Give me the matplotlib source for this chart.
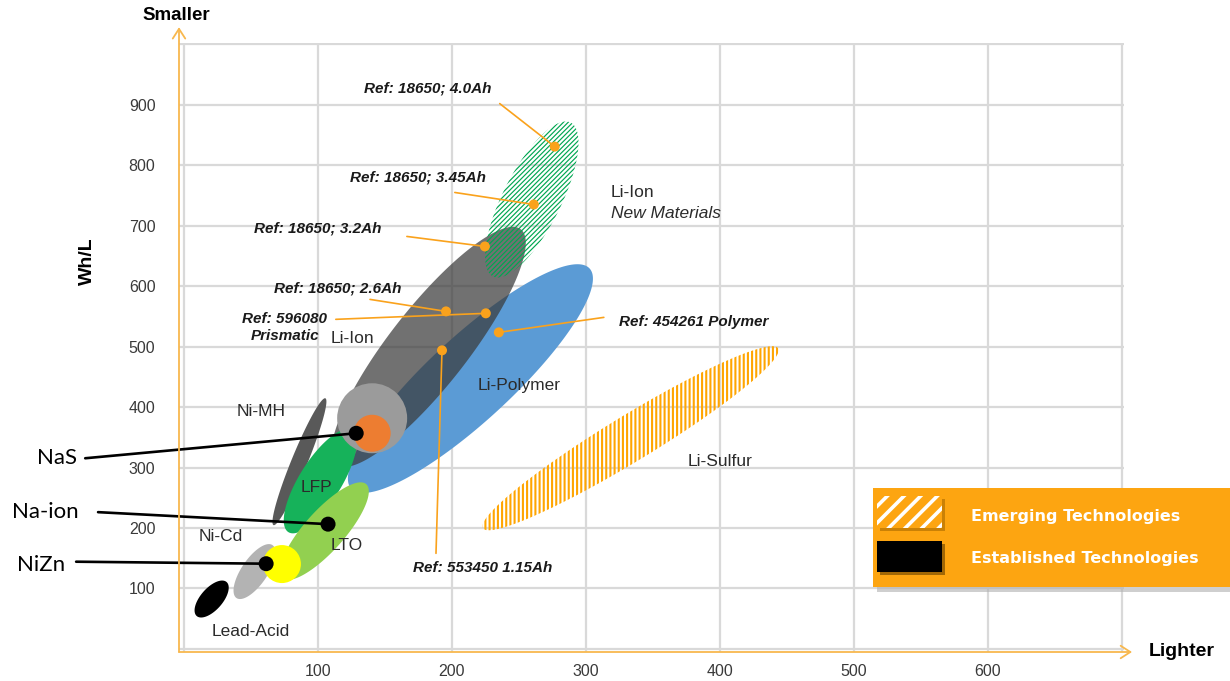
import numpy as np
import matplotlib
matplotlib.use("Agg")
import matplotlib.pyplot as plt
from matplotlib.patches import Polygon, Rectangle

# ---------------- data ----------------
x_ticks = [0, 100, 200, 300, 400, 500, 600, 700]
x_tick_labels = ["", "100", "200", "300", "400", "500", "600", ""]
y_ticks = [0, 100, 200, 300, 400, 500, 600, 700, 800, 900, 1000]
y_tick_labels = ["", "100", "200", "300", "400", "500", "600", "700", "800", "900", ""]

# technology regions: major-axis end points (Wh/kg, Wh/L)
tech_names = ["Li-Polymer", "Li-Ion", "Li-Ion New Materials", "Li-Sulfur",
              "Ni-MH", "LFP", "LTO", "Ni-Cd", "Lead-Acid"]
tech_low_whkg = [125.0, 114.0, 230.7, 223.2, 67.0, 78.1, 73.7, 39.4, 9.7]
tech_low_whl = [265.0, 305.0, 616.0, 199.8, 204.8, 193.2, 117.3, 84.2, 54.5]
tech_high_whkg = [302.8, 251.5, 288.7, 443.5, 105.7, 125.7, 136.2, 66.2, 32.0]
tech_high_whl = [629.2, 694.0, 870.4, 497.1, 414.5, 361.7, 272.5, 171.8, 110.7]

# round technology markers
circle_names = ["Highlight", "NaS", "NiZn"]
circle_whkg = [140.6, 140.6, 73.3]
circle_whl = [381.5, 356.7, 140.4]

# called-out emerging chemistries (black dots)
callout_names = ["NaS", "Na-ion", "NiZn"]
callout_whkg = [128.7, 107.7, 61.5]
callout_whl = [356.7, 206.4, 141.0]

# reference cells
ref_labels = ["Ref: 18650; 4.0Ah", "Ref: 18650; 3.45Ah", "Ref: 18650; 3.2Ah",
              "Ref: 18650; 2.6Ah", "Ref: 596080\nPrismatic", "Ref: 454261 Polymer",
              "Ref: 553450 1.15Ah"]
ref_whkg = [276.8, 261.2, 224.7, 195.7, 225.4, 235.1, 192.7]
ref_whl = [830.7, 735.0, 665.6, 558.2, 555.0, 523.5, 493.8]

legend_labels = ["Emerging Technologies", "Established Technologies"]

# ---------------- styles / layout ----------------
W, H = 1230, 681
plt.rcParams["font.family"] = ["Liberation Sans", "DejaVu Sans"]
plt.rcParams["hatch.linewidth"] = 1.1

ORANGE_AX = "#f8b84e"
ORANGE = "#faa21c"
TXT = "#2b2b2b"

tech_style = {
    "Li-Polymer": dict(fc="#5b9bd5", alpha=1.0, width=84, z=2),
    "Li-Ion": dict(fc="#3a3a3a", alpha=0.72, width=78, z=3),
    "Li-Ion New Materials": dict(fc="none", ec="#00a651", hatch="///////", hlw=0.85, width=58, z=4),
    "Li-Sulfur": dict(fc="none", ec="#ffa500", hatch="||||", hlw=1.5, width=46, z=4),
    "Ni-MH": dict(fc="#595959", alpha=1.0, width=16, z=5),
    "LFP": dict(fc="#16b25a", alpha=1.0, width=42, z=6),
    "LTO": dict(fc="#92d050", alpha=1.0, width=40, z=7),
    "Ni-Cd": dict(fc="#b3b3b3", alpha=1.0, width=26, z=7),
    "Lead-Acid": dict(fc="#000000", alpha=1.0, width=22, z=7),
}
circle_style = {
    "Highlight": dict(c="#9b9b9b", d=70, z=9),
    "NaS": dict(c="#ed7d31", d=37, z=10),
    "NiZn": dict(c="#ffff00", d=38, z=8),
}
tech_text = [  # (text, x, y, style)
    ("Li-Ion", 318.5, 754.7, "normal"),
    ("New Materials", 318.5, 720.0, "italic"),
    ("Li-Ion", 109.4, 513.6, "normal"),
    ("Li-Polymer", 219.5, 436.0, "normal"),
    ("Li-Sulfur", 375.7, 310.5, "normal"),
    ("Ni-MH", 39.4, 393.0, "normal"),
    ("LFP", 87.0, 267.5, "normal"),
    ("LTO", 109.4, 171.8, "normal"),
    ("Ni-Cd", 11.2, 186.6, "normal"),
    ("Lead-Acid", 20.8, 29.7, "normal"),
]
# pixel offsets from the dot: (line start), (label centre)
ref_line_off = [(-55, 43), (-79, 12), (-78, 10), (-76, 12), (-150, -6), (105, 15), (-6, -203)]
ref_text_off = [(-127, 58), (-116, 27), (-167, 18), (-108, 23), (-201, -14), (195, 10), (41, -218)]
callout_line_off = [(-271, -25), (-230, 12), (-190, 2)]
callout_text_off = [(-299, -25), (-283, 12), (-225, -1)]

fig = plt.figure(figsize=(W / 100, H / 100), dpi=100)
fig.patch.set_facecolor("white")
ax_left, ax_right, ax_bottom, ax_top = 179, 1124, 652, 43
ax = fig.add_axes([ax_left / W, (H - ax_bottom) / H, (ax_right - ax_left) / W, (ax_bottom - ax_top) / H])
ax.set_xlim(-3.5, 701.5)
ax.set_ylim(-5, 1002)
for s in ax.spines.values():
    s.set_visible(False)
ax.set_xticks(x_ticks)
ax.set_xticklabels(x_tick_labels)
ax.set_yticks(y_ticks)
ax.set_yticklabels(y_tick_labels)
ax.tick_params(length=0, labelsize=11.5, labelcolor="#3a3a3a")
ax.tick_params(axis="y", pad=17)
ax.tick_params(axis="x", pad=9)
ax.grid(True, color="#d9d9d9", lw=1.6, zorder=0)
ax.set_axisbelow(True)


def ellipse_points(p1, p2, width_px, n=240):
    d1 = ax.transData.transform(p1)
    d2 = ax.transData.transform(p2)
    c = (d1 + d2) / 2
    u = (d2 - d1) / 2
    L = np.hypot(*u)
    v = np.array([-u[1], u[0]]) / L * width_px / 2
    t = np.linspace(0, 2 * np.pi, n)
    pts = c + np.cos(t)[:, None] * u + np.sin(t)[:, None] * v
    return ax.transData.inverted().transform(pts)


for name, x0, y0, x1, y1 in zip(tech_names, tech_low_whkg, tech_low_whl, tech_high_whkg, tech_high_whl):
    st = tech_style[name]
    pts = ellipse_points((x0, y0), (x1, y1), st["width"])
    if "hatch" in st:
        p = Polygon(pts, closed=True, facecolor="none", edgecolor=st["ec"], hatch=st["hatch"],
                    lw=0, zorder=st["z"])
        try:
            p.set_hatch_linewidth(st["hlw"])
        except AttributeError:
            pass
    else:
        p = Polygon(pts, closed=True, facecolor=st["fc"], edgecolor="none", alpha=st["alpha"],
                    zorder=st["z"])
    ax.add_patch(p)

for name, x, y in zip(circle_names, circle_whkg, circle_whl):
    st = circle_style[name]
    ax.scatter([x], [y], s=(st["d"] * 0.72) ** 2, color=st["c"], edgecolors="none", zorder=st["z"])

for txt, x, y, style in tech_text:
    kw = {}
    if txt == "Lead-Acid":
        kw["bbox"] = dict(fc="white", ec="none", pad=1)
    ax.text(x, y, txt, fontsize=12.5, color=TXT, style=style, ha="left", va="center",
            zorder=11 if txt not in ("Lead-Acid",) else 6, **kw)

# reference cells
ax.scatter(ref_whkg, ref_whl, s=(10 * 0.72) ** 2, color=ORANGE, edgecolors="none", zorder=13)
for lab, x, y, lo, to in zip(ref_labels, ref_whkg, ref_whl, ref_line_off, ref_text_off):
    ax.annotate("", xy=(x, y), xytext=lo, textcoords="offset pixels",
                arrowprops=dict(arrowstyle="-", color=ORANGE, lw=1.2, shrinkA=0, shrinkB=0),
                zorder=12)
    ax.annotate(lab, xy=(x, y), xytext=to, textcoords="offset pixels", ha="center", va="center",
                fontsize=11, fontweight="bold", style="italic", color="#1a1a1a",
                linespacing=1.25, zorder=14, annotation_clip=False)

# call-outs
ax.scatter(callout_whkg, callout_whl, s=(15 * 0.72) ** 2, color="black", edgecolors="none", zorder=16)
for lab, x, y, lo, to in zip(callout_names, callout_whkg, callout_whl, callout_line_off, callout_text_off):
    ax.annotate("", xy=(x, y), xytext=lo, textcoords="offset pixels",
                arrowprops=dict(arrowstyle="-", color="black", lw=1.9, shrinkA=0, shrinkB=0),
                zorder=15, annotation_clip=False)
    ax.annotate(lab, xy=(x, y), xytext=to, textcoords="offset pixels", ha="center", va="center",
                fontsize=16, family=["Lato", "DejaVu Sans"], color="black", zorder=15,
                annotation_clip=False)

# orange axis arrows
ax.annotate("", xy=(0, 1.026), xytext=(0, 0), xycoords="axes fraction",
            arrowprops=dict(arrowstyle="->,head_length=0.7,head_width=0.45", color=ORANGE_AX, lw=1.3,
                            shrinkA=0, shrinkB=0), annotation_clip=False, zorder=20)
ax.annotate("", xy=(1.0085, 0), xytext=(0, 0), xycoords="axes fraction",
            arrowprops=dict(arrowstyle="->,head_length=0.7,head_width=0.45", color=ORANGE_AX, lw=1.3,
                            shrinkA=0, shrinkB=0), annotation_clip=False, zorder=20)

fig.text(176 / W, 1 - 15 / H, "Smaller", fontsize=13.5, fontweight="bold", ha="center", va="center")
fig.text(1182 / W, 1 - 651 / H, "Lighter", fontsize=14, fontweight="bold", ha="center", va="center")
fig.text(87 / W, 1 - 261 / H, "Wh/L", fontsize=14, fontweight="bold", rotation=90, ha="center", va="center")

# legend box
def fig_rect(x0, y0, x1, y1, **kw):
    r = Rectangle((x0 / W, 1 - y1 / H), (x1 - x0) / W, (y1 - y0) / H, transform=fig.transFigure, **kw)
    fig.patches.append(r)
    return r

fig_rect(877, 492, 1233, 592, facecolor="#b0b0b0", edgecolor="none", alpha=0.6, zorder=1)
fig_rect(873, 488, 1230, 587, facecolor="#fda511", edgecolor="none", zorder=2)
fig_rect(880, 499, 945, 531, facecolor="#a86a00", edgecolor="none", alpha=0.6, zorder=3)
fig_rect(880, 544, 945, 575, facecolor="#7a4d00", edgecolor="none", alpha=0.7, zorder=3)
hp = fig_rect(877, 496, 942, 528, facecolor="#fda511", edgecolor="white", hatch="//", lw=0, zorder=4)
try:
    hp.set_hatch_linewidth(2.6)
except AttributeError:
    pass
fig_rect(877, 541, 942, 572, facecolor="black", edgecolor="none", zorder=4)
fig.text(971 / W, 1 - 516 / H, legend_labels[0], fontsize=11.5, fontweight="bold",
         family=["DejaVu Sans"], color="white", ha="left", va="center", zorder=5)
fig.text(971 / W, 1 - 558 / H, legend_labels[1], fontsize=11.5, fontweight="bold",
         family=["DejaVu Sans"], color="white", ha="left", va="center", zorder=5)

fig.savefig("out.png", dpi=100)
